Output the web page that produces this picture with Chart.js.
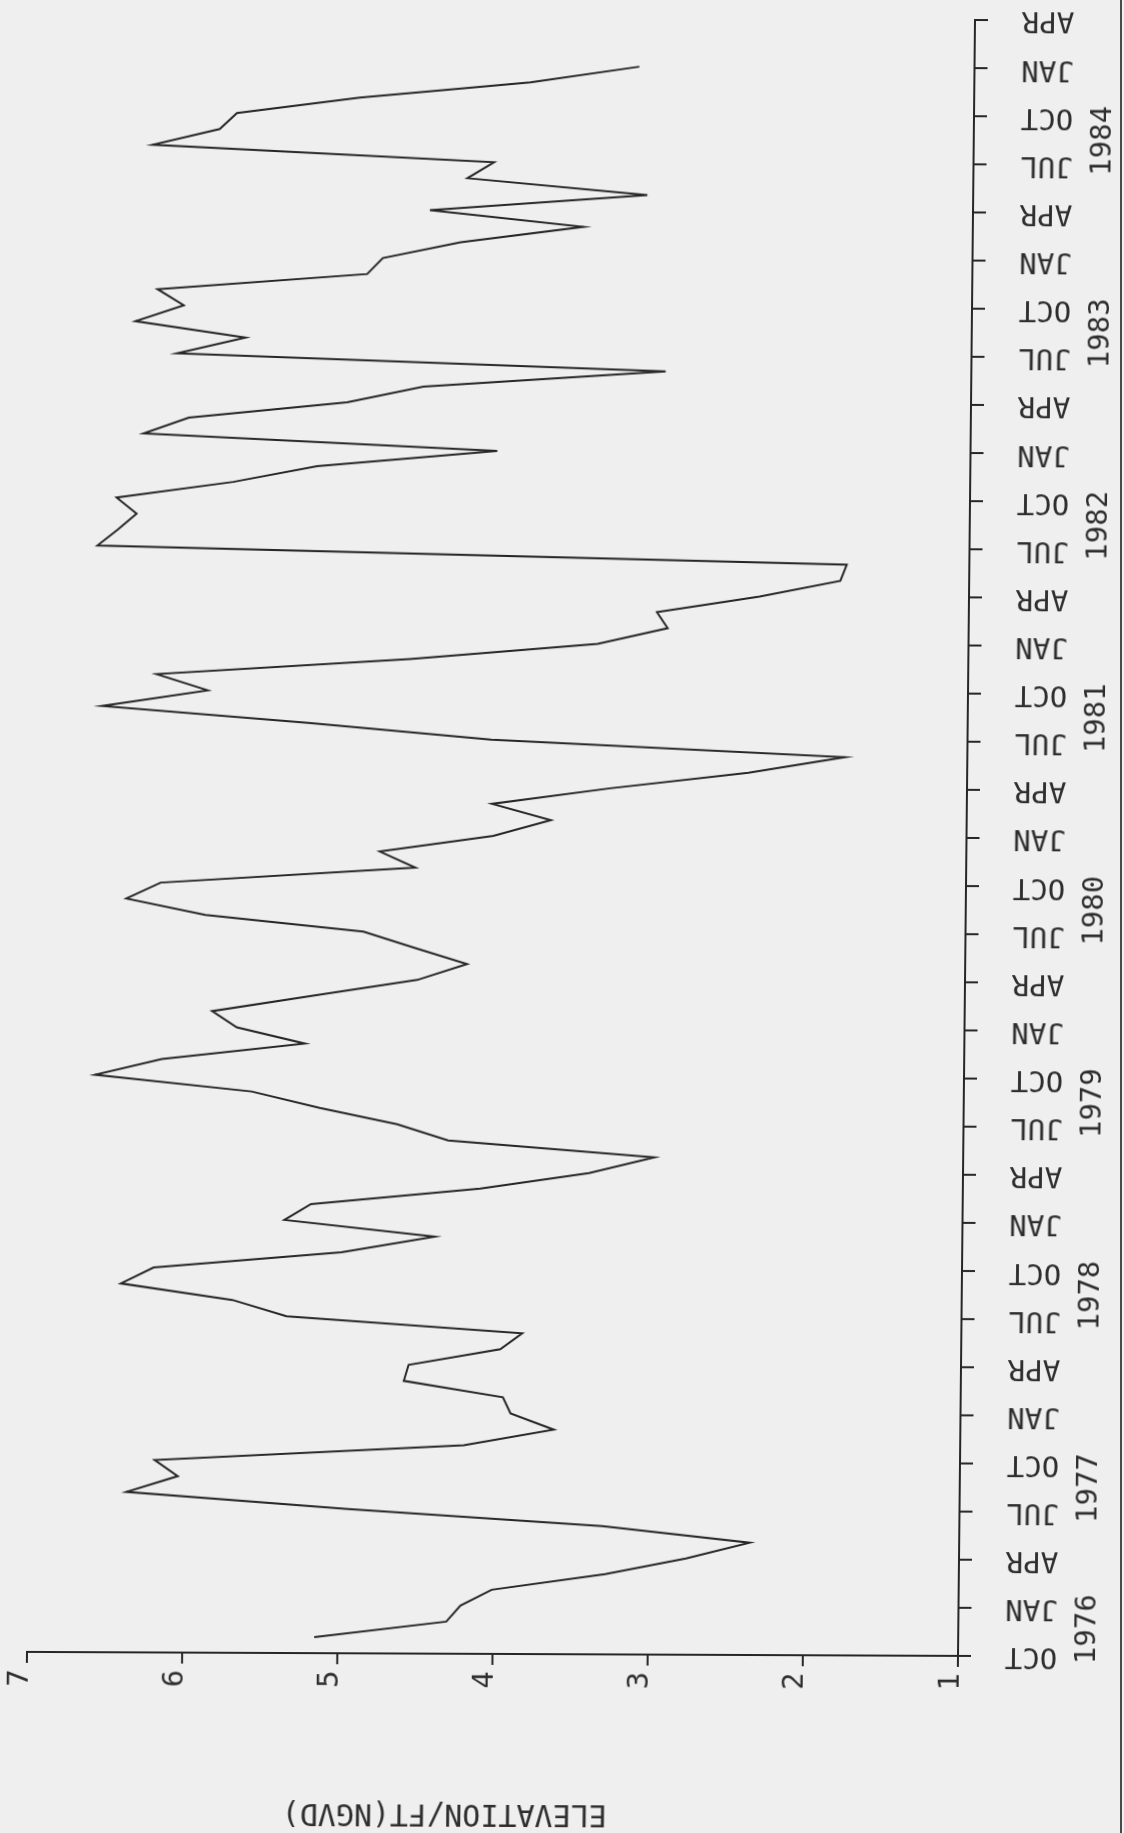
<!DOCTYPE html>
<html>
<head>
<meta charset="utf-8">
<script src="https://cdn.jsdelivr.net/npm/chart.js@4/dist/chart.umd.min.js"></script>
<style>
  html, body { margin: 0; padding: 0; background: #efefef; }
  #page { position: relative; width: 1124px; height: 1833px; overflow: hidden; background: #efefef; }
  #wrap { position: absolute; left: 0; top: 0; width: 1124px; height: 1833px;
          transform-origin: 958px 1656px; transform: matrix(1, 0.0043, -0.0104, 1, 0, 0); }
  #edge { position: absolute; left: 1120px; top: 0; width: 2px; height: 1833px; background: #4a4a4a; }
</style>
</head>
<body>
<div id="page">
  <div id="wrap"><canvas id="stage" width="1124" height="1833"></canvas></div>
  <div id="edge"></div>
</div>
<script>
// Monthly water-surface elevation, feet above NGVD.
// Month index counts from OCT 1976 (0); the record starts one month in.
const firstMonth = 1;
const elevationFt = [
  5.15, 4.30, 4.21, 4.01, 3.28, 2.76, 2.35, 3.30, 4.94, 6.37, 6.04, 6.19,
  4.20, 3.62, 3.90, 3.95, 4.59, 4.56, 3.97, 3.83, 5.35, 5.70, 6.42, 6.21,
  5.00, 4.40, 5.37, 5.20, 4.11, 3.41, 2.99, 4.32, 4.65, 5.15, 5.59, 6.60,
  6.17, 5.25, 5.69, 5.85, 5.20, 4.53, 4.21, 4.55, 4.88, 5.90, 6.41, 6.19,
  4.55, 4.78, 4.05, 3.68, 4.06, 3.30, 2.41, 1.79, 4.07, 5.25, 6.58, 5.90,
  6.23, 4.60, 3.39, 2.94, 3.01, 2.35, 1.83, 1.79, 6.62, 6.49, 6.37, 6.50,
  5.75, 5.21, 4.05, 6.33, 6.04, 5.02, 4.53, 2.97, 6.12, 5.68, 6.39, 6.08,
  6.25, 4.90, 4.80, 4.30, 3.51, 4.50, 3.10, 4.26, 4.09, 6.29, 5.86, 5.75,
  4.96, 3.86, 3.16
];

// Axis labelling
const elevationTicks = [1, 2, 3, 4, 5, 6, 7];
const quarterLabels = ['OCT', 'JAN', 'APR', 'JUL'];
const yearLabels = ['1976', '1977', '1978', '1979', '1980', '1981', '1982', '1983', '1984'];
const monthSpan = 102;          // OCT 1976 .. APR 1985
const axisTitle = 'ELEVATION/FT(NGVD)';

const ink = '#262626';
const labelFont = '29px "DejaVu Sans Mono", monospace';

function drawText(ctx, text, cx, cy, angle, font) {
  ctx.save();
  ctx.translate(cx, cy);
  ctx.rotate(angle);
  ctx.font = font;
  ctx.textAlign = 'center';
  ctx.textBaseline = 'middle';
  ctx.fillText(text, 0, 0);
  ctx.restore();
}

// Plotter-style axes: elevation along the bottom, time up the right side.
const plotterAxes = {
  id: 'plotterAxes',
  afterDraw(chart) {
    const { ctx, scales: { x, y } } = chart;
    const xLow = x.getPixelForValue(elevationTicks[0]);
    const xHigh = x.getPixelForValue(elevationTicks[elevationTicks.length - 1]);
    const yStart = y.getPixelForValue(0);
    const yEnd = y.getPixelForValue(monthSpan);

    ctx.save();
    ctx.strokeStyle = ink;
    ctx.fillStyle = '#2e2e2e';
    ctx.lineWidth = 2;
    ctx.lineCap = 'square';

    ctx.beginPath();
    ctx.moveTo(xHigh, yStart); ctx.lineTo(xLow, yStart);
    ctx.moveTo(xLow, yEnd); ctx.lineTo(xLow, yStart);
    ctx.stroke();

    // elevation ticks and numbers (read bottom-to-top)
    elevationTicks.forEach(v => {
      const px = x.getPixelForValue(v);
      ctx.beginPath(); ctx.moveTo(px, yStart); ctx.lineTo(px, yStart + 10); ctx.stroke();
      drawText(ctx, String(v), px - 7, yStart + 26, -Math.PI / 2, labelFont);
    });

    // quarterly ticks with month names (turned over)
    for (let q = 0; q * 3 <= monthSpan; q++) {
      const py = y.getPixelForValue(q * 3);
      ctx.beginPath(); ctx.moveTo(xLow, py); ctx.lineTo(xLow + 12, py); ctx.stroke();
      drawText(ctx, quarterLabels[q % 4], xLow + 73, py, Math.PI, labelFont);
    }

    // year captions beside each October
    yearLabels.forEach((t, k) => {
      const m = k === 0 ? 1.7 : 12 * k - 1.5;
      drawText(ctx, t, xLow + 129, y.getPixelForValue(m), -Math.PI / 2, labelFont);
    });

    // axis title, turned over
    drawText(ctx, axisTitle, x.getPixelForValue(4.3), yStart + 159, Math.PI,
             '30px "DejaVu Sans Mono", monospace');
    ctx.restore();
  }
};

const points = elevationFt.map((v, i) => ({ x: v, y: firstMonth + i }));

new Chart(document.getElementById('stage'), {
  type: 'line',
  data: {
    datasets: [{
      data: points,
      borderColor: ink,
      borderWidth: 2,
      pointRadius: 0,
      tension: 0,
      fill: false
    }]
  },
  options: {
    responsive: false,
    animation: false,
    devicePixelRatio: 1,
    layout: { padding: { left: 27, right: 1124 - 958, top: 20, bottom: 1833 - 1656 } },
    plugins: { legend: { display: false }, tooltip: { enabled: false } },
    scales: {
      x: { type: 'linear', reverse: true, min: 1, max: 7, display: false },
      y: { type: 'linear', min: 0, max: monthSpan, display: false }
    }
  },
  plugins: [plotterAxes]
});
</script>
</body>
</html>
